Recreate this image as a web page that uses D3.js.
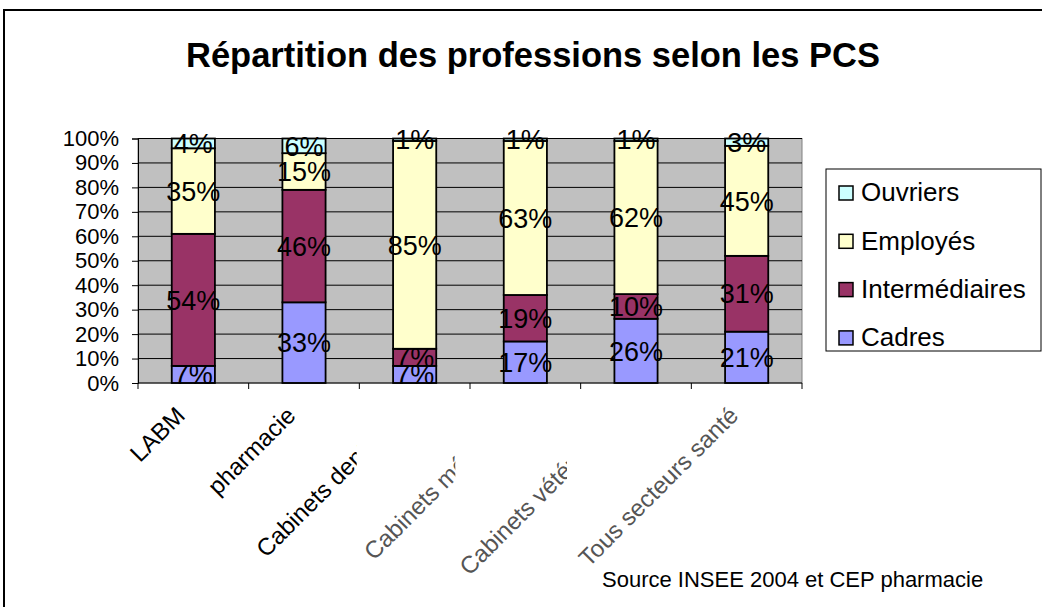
<!DOCTYPE html>
<html>
<head>
<meta charset="utf-8">
<script src="https://cdn.jsdelivr.net/npm/d3@7"></script>
<style>
  body { margin: 0; background: #fff; }
  svg { display: block; font-family: "Liberation Sans", Arial, sans-serif; }
</style>
</head>
<body>
<svg id="chart" width="1042" height="607"></svg>
<script>
// valeurs (en %)
const categories = ["LABM", "pharmacie", "Cabinets dentaires", "Cabinets médicaux", "Cabinets vétérinaires", "Tous secteurs santé"];
const seriesNames = ["Cadres", "Intermédiaires", "Employés", "Ouvriers"];
const cadres = [7, 33, 7, 17, 26, 21];
const intermediaires = [54, 46, 7, 19, 10, 31];
const employes = [35, 15, 85, 63, 62, 45];
const ouvriers = [4, 6, 1, 1, 1, 3];
const yTicks = [0, 0.1, 0.2, 0.3, 0.4, 0.5, 0.6, 0.7, 0.8, 0.9, 1];
const colors = ["#9999FF", "#993366", "#FFFFCC", "#CCFFFF"];
// les libellés coupés dans l'original (coupure, en px à gauche du centre)
const cutAt = [null, null, 58, 70, 69, null];
const greyLabels = [3, 4, 5];

const rows = categories.map((c, i) => ({
  cat: c,
  "Cadres": cadres[i],
  "Intermédiaires": intermediaires[i],
  "Employés": employes[i],
  "Ouvriers": ouvriers[i]
}));

const svg = d3.select("#chart");
const pLeft = 138, pRight = 802, pTop = 138.5, pBottom = 383;

// cadre extérieur
svg.append("rect").attr("x", 4).attr("y", 10).attr("width", 1200).attr("height", 1000)
  .attr("fill", "#fff").attr("stroke", "#000").attr("stroke-width", 2);

svg.append("text").attr("x", 533).attr("y", 67).attr("text-anchor", "middle")
  .attr("font-size", 34.5).attr("font-weight", "bold").text("Répartition des professions selon les PCS");

const x = d3.scaleBand().domain(categories).range([pLeft, pRight]).padding(0);
const y = d3.scaleLinear().domain([0, 1]).range([pBottom, pTop]);
const barW = x.bandwidth() * 0.39;

// zone de tracé
svg.append("rect").attr("x", pLeft).attr("y", pTop).attr("width", pRight - pLeft).attr("height", pBottom - pTop)
  .attr("fill", "#C0C0C0").attr("stroke", "#808080").attr("stroke-width", 1);

svg.append("g").selectAll("line").data(yTicks.slice(1)).enter().append("line")
  .attr("x1", pLeft).attr("x2", pRight)
  .attr("y1", d => y(d)).attr("y2", d => y(d))
  .attr("stroke", "#000").attr("stroke-width", 1);

const stack = d3.stack().keys(seriesNames).offset(d3.stackOffsetExpand);
const layers = stack(rows);

const g = svg.append("g");
layers.forEach((layer, k) => {
  g.selectAll(null).data(layer).enter().append("rect")
    .attr("x", d => x(d.data.cat) + (x.bandwidth() - barW) / 2)
    .attr("width", barW)
    .attr("y", d => y(d[1]))
    .attr("height", d => y(d[0]) - y(d[1]))
    .attr("fill", colors[k])
    .attr("stroke", "#000").attr("stroke-width", 1.8);
});

layers.forEach(layer => {
  g.selectAll(null).data(layer).enter().append("text")
    .attr("x", d => x(d.data.cat) + x.bandwidth() / 2)
    .attr("y", d => y((d[0] + d[1]) / 2))
    .attr("dy", "0.36em")
    .attr("text-anchor", "middle")
    .attr("font-size", 27)
    .text(d => d.data[layer.key] + "%");
});

// axe Y
const yAxis = d3.axisLeft(y).tickValues(yTicks).tickFormat(d3.format(".0%")).tickSize(6).tickPadding(13);
const ya = svg.append("g").attr("transform", `translate(${pLeft},0)`).call(yAxis);
ya.select(".domain").attr("stroke", "#000");
ya.selectAll("text").attr("font-size", 22).attr("fill", "#000")
  .attr("font-family", "Liberation Sans, Arial, sans-serif");

// axe X
svg.append("line").attr("x1", pLeft).attr("x2", pRight).attr("y1", pBottom).attr("y2", pBottom)
  .attr("stroke", "#000").attr("stroke-width", 1);
svg.append("g").selectAll("line").data(categories.map(c => x(c)).concat([pRight])).enter().append("line")
  .attr("x1", d => d).attr("x2", d => d).attr("y1", pBottom).attr("y2", pBottom + 6)
  .attr("stroke", "#000");

const defs = svg.append("defs");
categories.forEach((c, i) => {
  const cx = x(c) + x.bandwidth() / 2;
  const t = svg.append("text")
    .attr("transform", `translate(${cx - 7},417) rotate(-45)`)
    .attr("text-anchor", "end")
    .attr("font-size", 24)
    .attr("fill", greyLabels.includes(i) ? "#555" : "#000")
    .text(c);
  if (cutAt[i] !== null) {
    defs.append("clipPath").attr("id", "clip" + i).attr("clipPathUnits", "userSpaceOnUse")
      .append("rect").attr("x", 0).attr("y", 390).attr("width", cx - cutAt[i]).attr("height", 220);
    // on enveloppe dans un groupe pour que le clip soit en coordonnées de page
    const wrap = svg.append("g").attr("clip-path", `url(#clip${i})`);
    wrap.node().appendChild(t.node());
  }
});

// légende
const lg = svg.append("g");
lg.append("rect").attr("x", 826).attr("y", 169).attr("width", 215).attr("height", 182)
  .attr("fill", "#fff").attr("stroke", "#000").attr("stroke-width", 1);
const legendOrder = seriesNames.slice().reverse();
legendOrder.forEach((s, i) => {
  const cy = 192 + i * 48.3;
  lg.append("rect").attr("x", 839).attr("y", cy - 6).attr("width", 14).attr("height", 14)
    .attr("fill", colors[seriesNames.indexOf(s)]).attr("stroke", "#000").attr("stroke-width", 1.5);
  lg.append("text").attr("x", 861).attr("y", cy).attr("dy", "0.36em")
    .attr("font-size", 26).text(s);
});

svg.append("text").attr("x", 602).attr("y", 587).attr("font-size", 22)
  .text("Source INSEE 2004 et CEP pharmacie");
</script>
</body>
</html>
